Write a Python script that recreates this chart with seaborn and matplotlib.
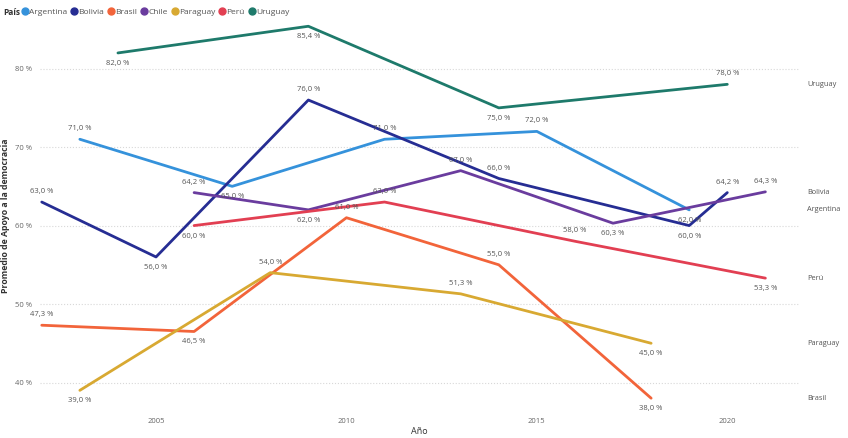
"""
Apoyo promedio a la democracia por país y año.
"""

import pandas as pd
import matplotlib.pyplot as plt
from matplotlib.lines import Line2D
import seaborn as sns

# datos
paises = ["Argentina", "Bolivia", "Brasil", "Chile", "Paraguay", "Perú", "Uruguay"]

anios_argentina = [2003, 2007, 2011, 2015, 2019]
valores_argentina = [71.0, 65.0, 71.0, 72.0, 62.0]

anios_bolivia = [2002, 2005, 2009, 2014, 2019, 2020]
valores_bolivia = [63.0, 56.0, 76.0, 66.0, 60.0, 64.2]

anios_brasil = [2002, 2006, 2010, 2014, 2018]
valores_brasil = [47.3, 46.5, 61.0, 55.0, 38.0]

anios_chile = [2006, 2009, 2013, 2017, 2021]
valores_chile = [64.2, 62.0, 67.0, 60.3, 64.3]

anios_paraguay = [2003, 2008, 2013, 2018]
valores_paraguay = [39.0, 54.0, 51.3, 45.0]

anios_peru = [2006, 2011, 2016, 2021]
valores_peru = [60.0, 63.0, 58.0, 53.3]

anios_uruguay = [2004, 2009, 2014, 2020]
valores_uruguay = [82.0, 85.4, 75.0, 78.0]

# etiquetas al costado derecho (Chile no aparece)
etiquetas_derecha = ["Uruguay", "Bolivia", "Argentina", "Perú", "Paraguay", "Brasil"]

colores = {
    "Argentina": "#3592DB",
    "Bolivia": "#262D93",
    "Brasil": "#F2643A",
    "Chile": "#6A3C9E",
    "Paraguay": "#D8A932",
    "Perú": "#E23F52",
    "Uruguay": "#1E7A6B",
}

# posición de cada etiqueta de valor: +1 arriba, -1 abajo
posicion_etiquetas = {
    "Argentina": [1, -1, 1, 1, -1],
    "Bolivia": [1, -1, 1, 1, -1, 1],
    "Brasil": [1, -1, 1, 1, -1],
    "Chile": [1, -1, 1, -1, 1],
    "Paraguay": [-1, 1, 1, -1],
    "Perú": [-1, 1, 1, -1],
    "Uruguay": [-1, -1, -1, 1],
}


def armar_tabla():
    series = {
        "Argentina": (anios_argentina, valores_argentina),
        "Bolivia": (anios_bolivia, valores_bolivia),
        "Brasil": (anios_brasil, valores_brasil),
        "Chile": (anios_chile, valores_chile),
        "Paraguay": (anios_paraguay, valores_paraguay),
        "Perú": (anios_peru, valores_peru),
        "Uruguay": (anios_uruguay, valores_uruguay),
    }
    filas = []
    for pais, (anios, valores) in series.items():
        for a, v in zip(anios, valores):
            filas.append({"País": pais, "Año": a, "Apoyo": v})
    return pd.DataFrame(filas)


def main():
    df = armar_tabla()

    sns.set_theme(style="white")
    plt.rcParams["font.family"] = ["Open Sans", "DejaVu Sans"]

    fig = plt.figure(figsize=(8.48, 4.38), dpi=100)
    ax = fig.add_axes([0.047, 0.064, 0.896, 0.885])

    sns.lineplot(data=df, x="Año", y="Apoyo", hue="País", palette=colores,
                 hue_order=paises, linewidth=2, ax=ax, legend=False,
                 sort=True, estimator=None)

    # etiquetas de valores
    for pais in paises:
        sub = df[df["País"] == pais].sort_values("Año")
        for (_, fila), pos in zip(sub.iterrows(), posicion_etiquetas[pais]):
            texto = f"{fila['Apoyo']:.1f} %".replace(".", ",")
            ax.annotate(texto, (fila["Año"], fila["Apoyo"]),
                        xytext=(0, 5 * pos), textcoords="offset points",
                        ha="center", va="bottom" if pos > 0 else "top",
                        fontsize=5.5, color="#555555")

    # nombres de países a la derecha
    for pais in etiquetas_derecha:
        sub = df[df["País"] == pais].sort_values("Año")
        ax.text(2022.1, sub["Apoyo"].iloc[-1], pais, fontsize=5.3,
                color="#555555", va="center", ha="left", clip_on=False)

    ax.set_xlim(2001.95, 2021.9)
    ax.set_ylim(36.5, 85.9)
    ax.set_xticks([2005, 2010, 2015, 2020])
    ax.set_yticks([40, 50, 60, 70, 80])
    ax.set_yticklabels([f"{v} %" for v in [40, 50, 60, 70, 80]])
    ax.tick_params(axis="both", labelsize=5.5, colors="#666666", length=0, pad=6)
    ax.set_xlabel("Año", fontsize=6.5, color="#333333", labelpad=1)
    ax.set_ylabel("Promedio de Apoyo a la democracia", fontsize=6.3,
                  color="#333333", fontweight="bold", labelpad=3)
    ax.grid(axis="y", linestyle=":", color="#d8d8d8", linewidth=0.8)
    for s in ax.spines.values():
        s.set_visible(False)

    # leyenda superior
    fig.text(0.004, 0.972, "País", fontsize=6, fontweight="bold",
             color="#333333", va="center")
    handles = [Line2D([], [], marker="o", linestyle="", markersize=5,
                      color=colores[p]) for p in paises]
    fig.legend(handles, paises, loc="center left", bbox_to_anchor=(0.024, 0.972),
               ncol=len(paises), frameon=False, fontsize=6, handletextpad=0.0,
               columnspacing=0.35, handlelength=1.0, borderaxespad=0,
               borderpad=0, labelcolor="#555555")

    fig.savefig("out.png", dpi=100)


if __name__ == "__main__":
    main()
